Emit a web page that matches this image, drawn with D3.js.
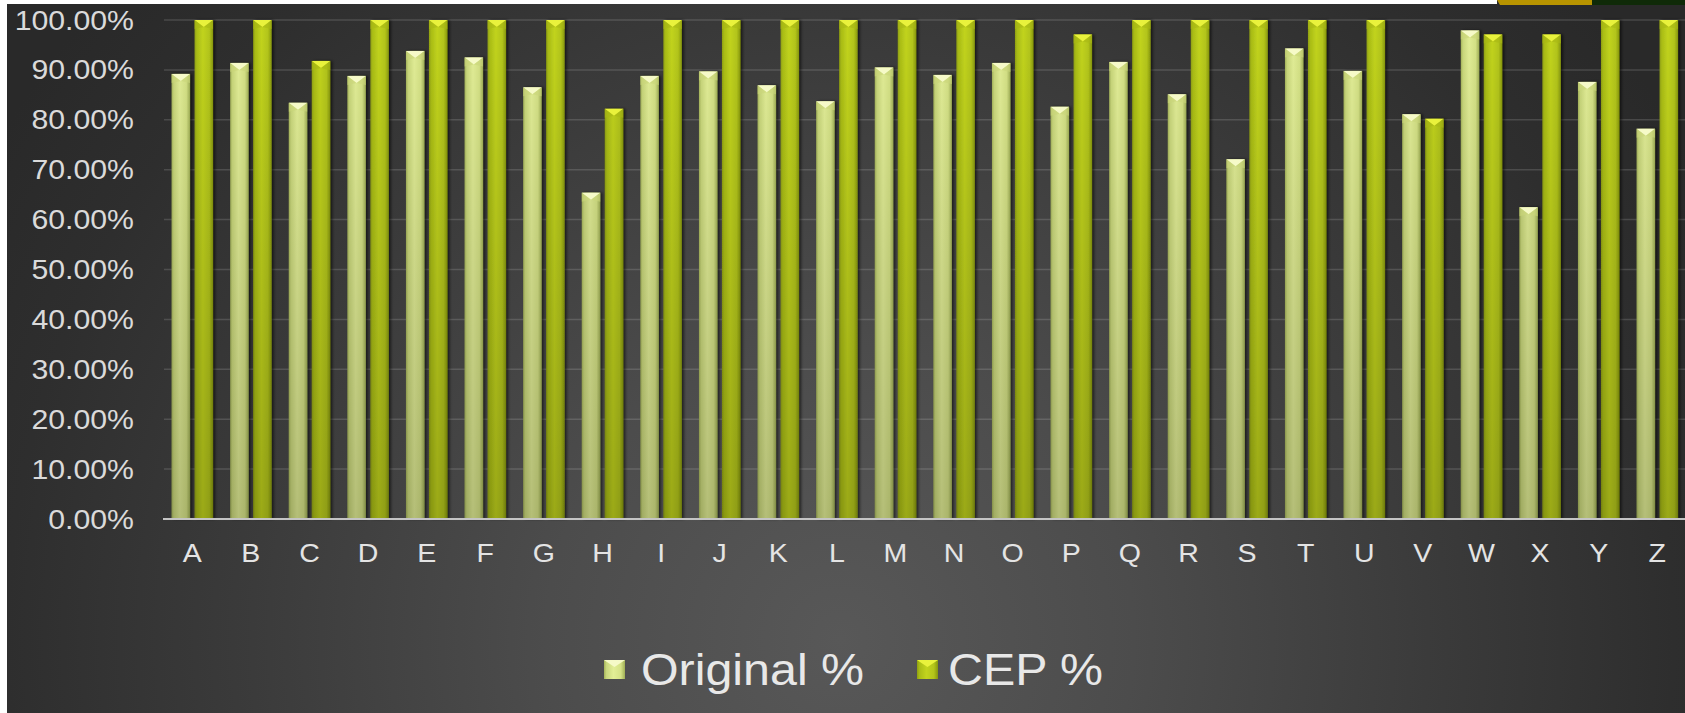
<!DOCTYPE html>
<html><head><meta charset="utf-8">
<script src="https://cdn.jsdelivr.net/npm/d3@7"></script>
<style>html,body{margin:0;padding:0;background:#fff;overflow:hidden}svg{display:block}</style>
</head><body>
<svg id="chart" width="1685" height="713"></svg>
<script>
const categories = ["A","B","C","D","E","F","G","H","I","J","K","L","M","N","O","P","Q","R","S","T","U","V","W","X","Y","Z"];
const originalPct = [0.892,0.914,0.834,0.888,0.938,0.925,0.865,0.654,0.888,0.897,0.869,0.837,0.905,0.890,0.914,0.826,0.916,0.851,0.721,0.943,0.898,0.811,0.979,0.625,0.876,0.782];
const cepPct      = [1.000,1.000,0.918,1.000,1.000,1.000,1.000,0.822,1.000,1.000,1.000,1.000,1.000,1.000,1.000,0.971,1.000,1.000,1.000,1.000,1.000,0.802,0.971,0.971,1.000,1.000];
const seriesNames = ["Original %","CEP %"];
const yTicks = [0,0.1,0.2,0.3,0.4,0.5,0.6,0.7,0.8,0.9,1.0];

const W = 1685, H = 713;
const svg = d3.select("#chart");
const defs = svg.append("defs");

const bg = defs.append("radialGradient").attr("id","bg").attr("gradientUnits","userSpaceOnUse")
  .attr("cx",840).attr("cy",640).attr("r",980);
[[0,"#585858"],[0.3,"#4c4c4c"],[0.6,"#3b3b3b"],[0.85,"#2e2e2e"],[1,"#292929"]].forEach(s=>bg.append("stop").attr("offset",s[0]).attr("stop-color",s[1]));

function hGrad(id, stops){
  const g = defs.append("linearGradient").attr("id",id).attr("x1",0).attr("x2",1).attr("y1",0).attr("y2",0);
  stops.forEach(s=>g.append("stop").attr("offset",s[0]).attr("stop-color",s[1]));
}
hGrad("gOrig",[[0,"#a4b35a"],[0.12,"#cad87c"],[0.45,"#e2ee96"],[0.8,"#d5e286"],[1,"#9fae55"]]);
hGrad("gCep",[[0,"#8f9f10"],[0.12,"#aabd16"],[0.45,"#c2d41e"],[0.8,"#b3c51a"],[1,"#86960e"]]);
const shade = defs.append("linearGradient").attr("id","shade").attr("gradientUnits","userSpaceOnUse")
  .attr("x1",0).attr("x2",0).attr("y1",20).attr("y2",519);
shade.append("stop").attr("offset",0).attr("stop-color","#000").attr("stop-opacity",0);
shade.append("stop").attr("offset",1).attr("stop-color","#000").attr("stop-opacity",0.2);
const f = defs.append("filter").attr("id","ds").attr("x","-50%").attr("y","-10%").attr("width","200%").attr("height","120%");
f.append("feDropShadow").attr("dx",2).attr("dy",0).attr("stdDeviation",1.5).attr("flood-color","#000").attr("flood-opacity",0.6);

svg.append("rect").attr("width",W).attr("height",H).attr("fill","url(#bg)");

const x0 = d3.scaleBand().domain(categories).range([163, 163 + 26*58.6]).paddingInner(0).paddingOuter(0);
const x1 = d3.scaleBand().domain(seriesNames).range([0, x0.bandwidth()]).paddingInner(0.196).paddingOuter(0.372);
const y = d3.scaleLinear().domain([0,1]).range([519,20]);

svg.append("g").selectAll("line").data(yTicks.slice(1)).join("line")
  .attr("x1",164).attr("x2",W).attr("y1",d=>y(d)).attr("y2",d=>y(d))
  .attr("stroke","#ffffff").attr("stroke-opacity",0.14).attr("stroke-width",1.5);

svg.append("g").selectAll("text").data(yTicks).join("text")
  .attr("transform",d=>`translate(134,${y(d)+9.5}) scale(1.1,1)`)
  .attr("text-anchor","end").attr("fill","#dadada")
  .style("font-family","'Liberation Sans', Arial, sans-serif").style("font-size","27.5px")
  .text(d=>d3.format(".2%")(d));

const rows = categories.map((c,i)=>({c, vals:[{s:seriesNames[0],v:originalPct[i]},{s:seriesNames[1],v:cepPct[i]}]}));
const capCol = {"Original %":"#f6fac8","CEP %":"#e9f23c"};
const capSide = {"Original %":"#c9d57a","CEP %":"#a8b814"};
const fillId = {"Original %":"url(#gOrig)","CEP %":"url(#gCep)"};
const groups = svg.append("g").selectAll("g").data(rows).join("g")
  .attr("transform",d=>`translate(${x0(d.c)},0)`);
const bars = groups.selectAll("g.bar").data(d=>d.vals).join("g").attr("class","bar");
bars.append("rect").attr("x",d=>x1(d.s)).attr("width",x1.bandwidth())
  .attr("y",d=>y(d.v)).attr("height",d=>y(0)-y(d.v)).attr("fill",d=>fillId[d.s]).attr("filter","url(#ds)");
bars.append("rect").attr("x",d=>x1(d.s)).attr("width",x1.bandwidth())
  .attr("y",d=>y(d.v)).attr("height",d=>y(0)-y(d.v)).attr("fill","url(#shade)");
bars.append("path").attr("d",d=>{
  const xa=x1(d.s), xb=xa+x1.bandwidth(), xm=(xa+xb)/2, t=y(d.v);
  return `M${xa},${t}L${xb},${t}L${xm},${t+7}Z`;
}).attr("fill",d=>capCol[d.s]);
bars.append("path").attr("d",d=>{
  const xa=x1(d.s), xb=xa+x1.bandwidth(), xm=(xa+xb)/2, t=y(d.v);
  return `M${xa},${t}L${xm},${t+7}L${xa},${t+9}Z M${xb},${t}L${xm},${t+7}L${xb},${t+9}Z`;
}).attr("fill",d=>capSide[d.s]).attr("opacity",0.6);

svg.append("line").attr("x1",163).attr("x2",W).attr("y1",y(0)).attr("y2",y(0))
  .attr("stroke","#c4c4c4").attr("stroke-width",2);

svg.append("g").selectAll("text").data(categories).join("text")
  .attr("transform",d=>`translate(${x0(d)+x0.bandwidth()/2},562) scale(1.12,1)`)
  .attr("text-anchor","middle").attr("fill","#e4e4e4")
  .style("font-family","'Liberation Sans', Arial, sans-serif").style("font-size","25.5px")
  .text(d=>d);

const legendItems = [{s:seriesNames[0], mx:604, tx:641},{s:seriesNames[1], mx:917, tx:948}];
const lg = svg.append("g").selectAll("g").data(legendItems).join("g");
lg.append("rect").attr("x",d=>d.mx).attr("y",660).attr("width",21).attr("height",19)
  .attr("fill",d=>fillId[d.s]);
lg.append("path").attr("d",d=>`M${d.mx},660L${d.mx+21},660L${d.mx+10.5},667Z`).attr("fill",d=>capCol[d.s]);
lg.append("text").attr("transform",d=>`translate(${d.tx},685) scale(1.075,1)`)
  .attr("fill","#e8e8e8").style("font-family","'Liberation Sans', Arial, sans-serif").style("font-size","45px")
  .text(d=>d.s);

svg.append("rect").attr("x",0).attr("y",0).attr("width",7).attr("height",H).attr("fill","#ffffff");
svg.append("rect").attr("x",0).attr("y",0).attr("width",1497).attr("height",4).attr("fill","#ffffff");
svg.append("path").attr("d","M1497,0L1592,0L1592,5L1500,5Z").attr("fill","#b89400");
svg.append("path").attr("d","M1592,0L1685,0L1685,5L1592,5Z").attr("fill","#0f2a08");
</script>
</body></html>
